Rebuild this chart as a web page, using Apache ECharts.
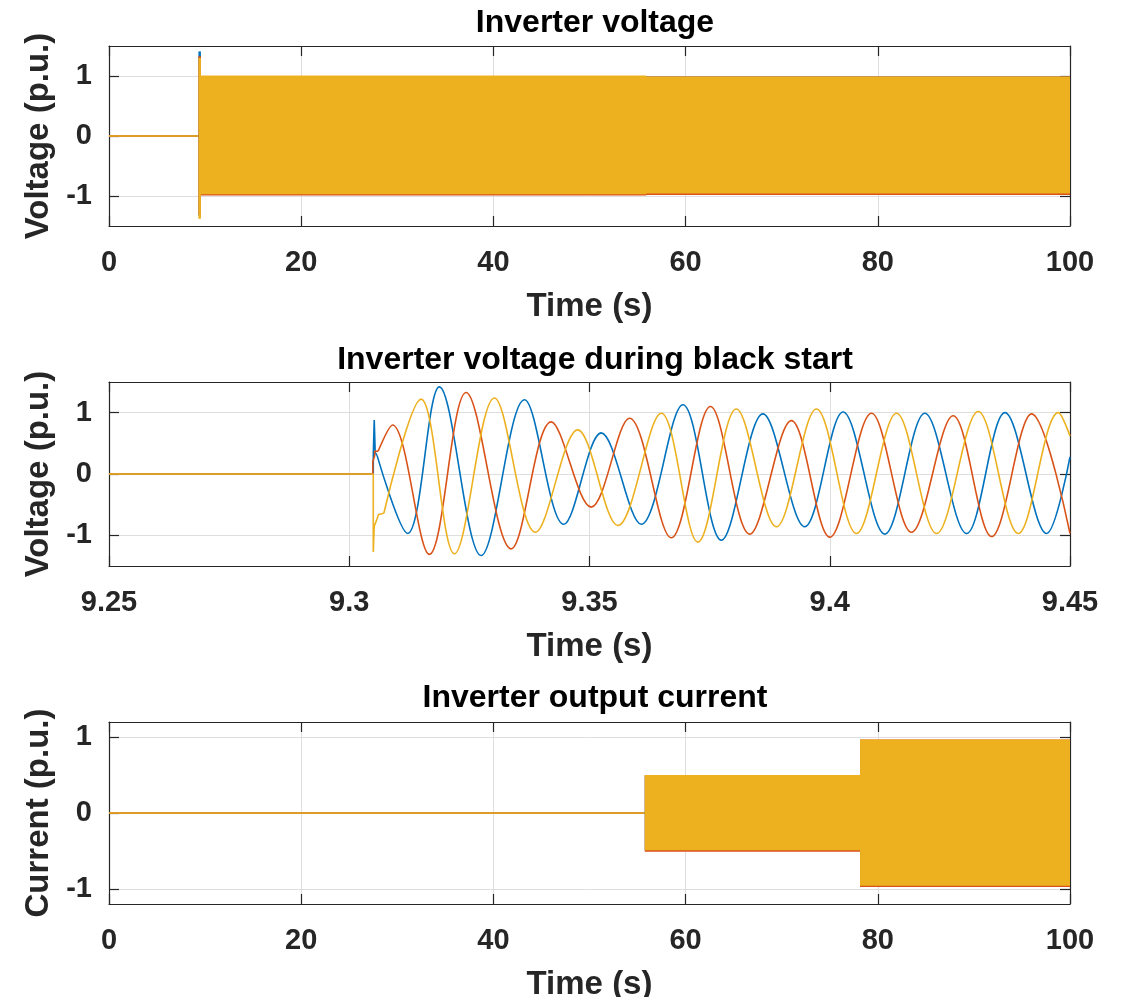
<!DOCTYPE html>
<html>
<head>
<meta charset="utf-8">
<script src="https://cdn.jsdelivr.net/npm/echarts@6/dist/echarts.min.js"></script>
<style>
  html, body { margin: 0; padding: 0; background: #fff; }
  #chart { width: 1121px; height: 997px; }
</style>
</head>
<body>
<div id="chart"></div>
<script>
// ---------- Data ----------
const phaseColors = ['#0072BD', '#D95319', '#EDB120'];
const titles = ['Inverter voltage', 'Inverter voltage during black start', 'Inverter output current'];
const xNames = ['Time (s)', 'Time (s)', 'Time (s)'];
const yNames = ['Voltage (p.u.)', 'Voltage (p.u.)', 'Current (p.u.)'];
const yTickValues = [-1, 0, 1];

// Plot 1: inverter voltage 0-100 s (flat line before start, then envelope bands [tStart, tEnd, upper, lower])
const voltFlat = [[0, 0], [9.305, 0]];
const voltBandA = [[9.305, 9.4, 1.41, -1.33], [9.4, 100, 0.99, -0.97]];
const voltBandB = [[9.305, 9.4, 1.33, -1.31], [9.4, 55.8, 1.0, -0.99], [55.8, 100, 0.99, -0.985]];
const voltBandC = [[9.305, 9.4, 1.30, -1.38], [9.4, 55.8, 1.01, -0.97], [55.8, 100, 0.99, -0.96]];

// Plot 2: black start detail (transient segments + waveform extrema)
const bsBlueStart = [[9.25, 0], [9.305, 0], [9.305, 0.3], [9.3052, 0.3], [9.3052, 0.88], [9.3054, 0.88], [9.3054, 0.35], [9.3058, 0.3]];
const bsBlueWave = [[9.3058, 0.3], [9.31215, -0.97], [9.31875, 1.42], [9.32744, -1.33], [9.33646, 1.21], [9.34465, -0.82], [9.35244, 0.67], [9.36077, -0.82], [9.36944, 1.13], [9.37744, -1.08], [9.38610, 0.98], [9.39479, -0.86], [9.40277, 1.01], [9.41146, -0.98], [9.41979, 0.99], [9.42848, -0.97], [9.43646, 1.00], [9.44515, -0.97], [9.45, 0.28]];
const bsOrangeStart = [[9.25, 0], [9.3049, 0], [9.3049, 0.2], [9.3053, 0.3], [9.3053, 0.37], [9.306, 0.37]];
const bsOrangeWave = [[9.306, 0.37], [9.3090, 0.80], [9.31667, -1.31], [9.32431, 1.33], [9.33369, -1.22], [9.34202, 0.85], [9.35035, -0.54], [9.35833, 0.91], [9.36702, -1.04], [9.37517, 1.10], [9.38333, -0.98], [9.39202, 0.87], [9.40, -1.03], [9.40869, 0.99], [9.41702, -0.95], [9.42569, 0.95], [9.43369, -1.02], [9.44202, 0.98], [9.45, -0.97]];
const bsYellowStart = [[9.25, 0], [9.305, 0], [9.305, -1.27], [9.3052, -1.27], [9.3052, -0.85], [9.3057, -0.75], [9.3061, -0.66], [9.3072, -0.64]];
const bsYellowWave = [[9.3072, -0.64], [9.31494, 1.22], [9.32188, -1.30], [9.33021, 1.24], [9.33875, -0.95], [9.34756, 0.72], [9.35590, -0.84], [9.36494, 0.99], [9.37256, -1.11], [9.38056, 1.06], [9.38890, -0.86], [9.39723, 1.06], [9.40556, -0.97], [9.41390, 0.99], [9.42223, -0.97], [9.43090, 1.02], [9.43923, -0.97], [9.44756, 1.00], [9.45, 0.62]];

// Plot 3: inverter output current 0-100 s
const currFlat = [[0, 0], [55.75, 0]];
const currBandA = [[55.75, 78.15, 0.49, -0.49], [78.15, 100, 0.96, -0.96]];
const currBandB = [[55.75, 78.15, 0.50, -0.51], [78.15, 100, 0.97, -0.975]];
const currBandC = [[55.75, 78.15, 0.50, -0.49], [78.15, 100, 0.97, -0.96]];

// ---------- Styling / layout ----------
const FONT = '"Liberation Sans", Arial, Helvetica, sans-serif';
const TXT = '#262626';
const GRIDC = '#dedede';
const grids = [
  { left: 109, right: 51, top: 46, height: 180, outerBoundsMode: 'none', containLabel: false },
  { left: 109, right: 51, top: 382, height: 184, outerBoundsMode: 'none', containLabel: false },
  { left: 109, right: 51, top: 722, height: 182, outerBoundsMode: 'none', containLabel: false }
];
const titleTops = [2, 339, 677];

function xAxes(gi, min, max, interval, fmt) {
  const common = { type: 'value', gridIndex: gi, min: min, max: max, interval: interval,
    axisLine: { show: true, onZero: false, lineStyle: { color: TXT, width: 1.2 } },
    axisTick: { show: true, inside: true, length: 10, lineStyle: { color: TXT, width: 1.2 } } };
  return [
    Object.assign({}, common, {
      position: 'bottom',
      name: xNames[gi], nameLocation: 'middle', nameGap: 64,
      nameTextStyle: { fontFamily: FONT, fontWeight: 'bold', fontSize: 33, color: TXT },
      axisLabel: { show: true, margin: 22, fontFamily: FONT, fontWeight: 'bold', fontSize: 29, color: TXT,
        formatter: fmt || (v => String(v)) },
      splitLine: { show: true, lineStyle: { color: GRIDC, width: 1 } }
    }),
    Object.assign({}, common, { position: 'top', axisLabel: { show: false }, splitLine: { show: false } })
  ];
}
function yAxes(gi, min, max) {
  const common = { type: 'value', gridIndex: gi, min: min, max: max,
    axisLine: { show: true, onZero: false, lineStyle: { color: TXT, width: 1.2 } },
    axisTick: { show: true, inside: true, length: 10, customValues: yTickValues, lineStyle: { color: TXT, width: 1.2 } } };
  return [
    Object.assign({}, common, {
      position: 'left',
      name: yNames[gi], nameLocation: 'middle', nameGap: 48,
      nameTextStyle: { fontFamily: FONT, fontWeight: 'bold', fontSize: 33, color: TXT },
      axisLabel: { show: true, margin: 17, customValues: yTickValues, fontFamily: FONT, fontWeight: 'bold', fontSize: 29, color: TXT },
      splitLine: { show: true, lineStyle: { color: GRIDC, width: 1 } }
    }),
    Object.assign({}, common, { position: 'right', axisLabel: { show: false }, splitLine: { show: false } })
  ];
}

function bandSeries(data, color, axisIdx) {
  return {
    type: 'custom', xAxisIndex: axisIdx, yAxisIndex: axisIdx,
    data: data, encode: { x: [0, 1], y: [2, 3] }, clip: true, silent: true,
    renderItem: function (params, api) {
      const p1 = api.coord([api.value(0), api.value(2)]);
      const p2 = api.coord([api.value(1), api.value(3)]);
      return { type: 'rect',
        shape: { x: p1[0], y: p1[1], width: Math.max(p2[0] - p1[0], 1.5) + 1, height: p2[1] - p1[1] },
        style: { fill: color } };
    }
  };
}
function lineSeries(data, color, axisIdx, smooth) {
  return { type: 'line', xAxisIndex: axisIdx, yAxisIndex: axisIdx, data: data,
    showSymbol: false, symbol: 'none', smooth: smooth || false, clip: true, silent: true,
    lineStyle: { color: color, width: 1.6 }, itemStyle: { color: color } };
}

const fmt2 = v => String(+v.toFixed(2));

const option = {
  animation: false,
  backgroundColor: '#ffffff',
  title: titles.map((t, i) => ({ text: t, left: 590, textAlign: 'center', top: titleTops[i],
    textStyle: { fontFamily: FONT, fontWeight: 'bold', fontSize: 32, color: '#000' } })),
  grid: grids,
  xAxis: [].concat(xAxes(0, 0, 100, 20), xAxes(1, 9.25, 9.45, 0.05, fmt2), xAxes(2, 0, 100, 20)),
  yAxis: [].concat(yAxes(0, -1.5, 1.5), yAxes(1, -1.5, 1.5), yAxes(2, -1.2, 1.2)),
  series: [
    // Plot 1 (axis index 0)
    lineSeries(voltFlat, phaseColors[0], 0), bandSeries(voltBandA, phaseColors[0], 0),
    lineSeries(voltFlat, phaseColors[1], 0), bandSeries(voltBandB, phaseColors[1], 0),
    lineSeries(voltFlat, phaseColors[2], 0), bandSeries(voltBandC, phaseColors[2], 0),
    // Plot 2 (axis index 2)
    lineSeries(bsBlueStart, phaseColors[0], 2), lineSeries(bsBlueWave, phaseColors[0], 2, 0.35),
    lineSeries(bsOrangeStart, phaseColors[1], 2), lineSeries(bsOrangeWave, phaseColors[1], 2, 0.35),
    lineSeries(bsYellowStart, phaseColors[2], 2), lineSeries(bsYellowWave, phaseColors[2], 2, 0.35),
    // Plot 3 (axis index 4)
    lineSeries(currFlat, phaseColors[0], 4), bandSeries(currBandA, phaseColors[0], 4),
    lineSeries(currFlat, phaseColors[1], 4), bandSeries(currBandB, phaseColors[1], 4),
    lineSeries(currFlat, phaseColors[2], 4), bandSeries(currBandC, phaseColors[2], 4)
  ]
};

const chart = echarts.init(document.getElementById('chart'), null, { renderer: 'canvas', width: 1121, height: 997 });
chart.setOption(option);
</script>
</body>
</html>
